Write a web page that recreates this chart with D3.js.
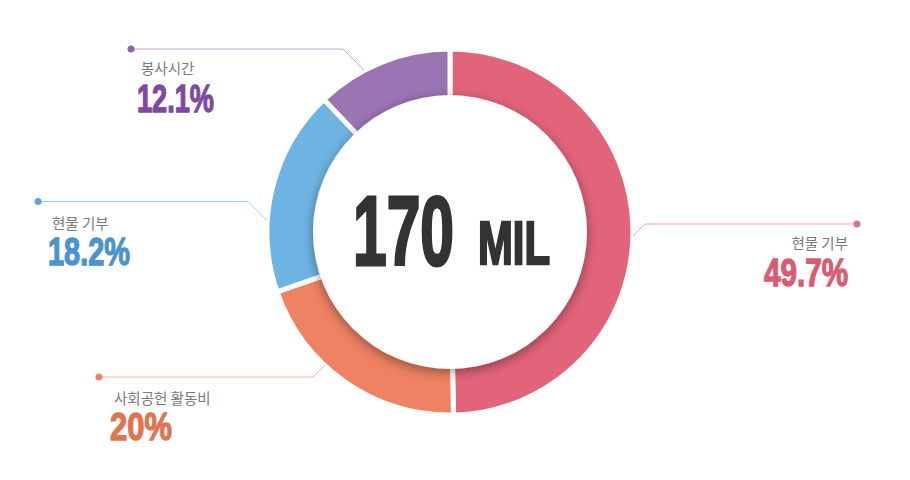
<!DOCTYPE html>
<html><head><meta charset="utf-8">
<script src="https://cdn.jsdelivr.net/npm/d3@7"></script>
<style>body{margin:0;background:#fff}svg{display:block}</style>
</head><body>
<svg id="c" width="910" height="480"></svg>
<script>
const categories = ["현물 기부", "사회공헌 활동비", "현물 기부", "봉사시간"];
const values = [49.7, 20, 18.2, 12.1];
const valueLabels = ["49.7%", "20%", "18.2%", "12.1%"];
const sliceColors = ["#e2647a", "#ee8262", "#6eb4e3", "#9b74b3"];
const textColors = ["#d85d72", "#e0744f", "#4b93cd", "#7d4aa1"];
const lineColors = ["#f2a5b1", "#f7b6a0", "#9dcbee", "#c2a6d3"];
const centerMain = "170", centerUnit = "MIL";

const W = 910, H = 480, cx = 450, cy = 232, R = 183, r = 137;
const svg = d3.select("#c");
const defs = svg.append("defs");
const f = defs.append("filter").attr("id","sh").attr("x","-30%").attr("y","-30%").attr("width","160%").attr("height","160%");
f.append("feDropShadow").attr("dx",0).attr("dy",3).attr("stdDeviation",6).attr("flood-color","#000").attr("flood-opacity",0.4);

const pie = d3.pie().sort(null).value(d => d)(values);
const arc = d3.arc().innerRadius(r - 4).outerRadius(R);
const g = svg.append("g").attr("transform", `translate(${cx},${cy})`);
g.selectAll("path").data(pie).join("path")
  .attr("d", arc).attr("fill", (d,i) => sliceColors[i])
  .attr("stroke", "#fff").attr("stroke-width", 5).attr("stroke-linejoin","miter");
g.append("circle").attr("r", r).attr("fill", "#fff").attr("filter", "url(#sh)");

// center text
g.append("text").text(centerMain).attr("x", -97).attr("y", 33)
  .attr("font-family","Liberation Sans, Arial, sans-serif").attr("font-weight",700)
  .attr("font-size",98).attr("fill","#333").attr("stroke","#333").attr("stroke-width",3)
  .attr("textLength",101).attr("lengthAdjust","spacingAndGlyphs");
g.append("text").text(centerUnit).attr("x", 28).attr("y", 32)
  .attr("font-family","Liberation Sans, Arial, sans-serif").attr("font-weight",700)
  .attr("font-size",62).attr("fill","#333").attr("stroke","#333").attr("stroke-width",2.5)
  .attr("textLength",72).attr("lengthAdjust","spacingAndGlyphs");

// label layout (annotation placement)
const layout = [
  {dot:[857,224], elbow:[645,224], dir:[-1,1], anchor:"end", tx:848, ly:249, vy:286, vw:84},
  {dot:[99,377], elbow:[313,377], dir:[1,-1], anchor:"start", tx:110, ly:404, vy:440, vw:62},
  {dot:[38,201.5], elbow:[248,201.5], dir:[1,1], anchor:"start", tx:48, ly:229, vy:265, vw:82},
  {dot:[131,49], elbow:[343,49], dir:[1,1], anchor:"start", tx:137, ly:74, vy:112, vw:77}
];
function hitCircle(e, d) {
  const k = Math.SQRT1_2, ux = d[0]*k, uy = d[1]*k;
  const px = e[0]-cx, py = e[1]-cy;
  const b = px*ux + py*uy, c = px*px + py*py - R*R;
  const t = -b - Math.sqrt(Math.max(0, b*b - c));
  return [e[0] + ux*t, e[1] + uy*t];
}
const lab = svg.append("g");
layout.forEach((L, i) => {
  const end = hitCircle(L.elbow, L.dir);
  lab.append("polyline").attr("points", [L.dot, L.elbow, end].map(p => p.join(",")).join(" "))
    .attr("fill","none").attr("stroke", lineColors[i]).attr("stroke-width",1);
  lab.append("circle").attr("cx", L.dot[0]).attr("cy", L.dot[1]).attr("r", 3.5).attr("fill", textColors[i]).attr("opacity",0.85);
  const kx = L.anchor === "end" ? L.tx : L.tx + 4;
  lab.append("text").text(categories[i]).attr("x", L.anchor === "end" ? L.tx : kx).attr("y", L.ly)
    .attr("text-anchor", L.anchor).attr("font-family","Noto Sans CJK KR, sans-serif")
    .attr("font-size",14.5).attr("fill","#7a7a7a");
  const vx = L.anchor === "end" ? L.tx - L.vw : L.tx;
  lab.append("text").text(valueLabels[i]).attr("x", vx).attr("y", L.vy)
    .attr("font-family","Liberation Sans, Arial, sans-serif").attr("font-weight",700)
    .attr("font-size",39).attr("fill", textColors[i]).attr("stroke", textColors[i]).attr("stroke-width",1.3)
    .attr("textLength", L.vw).attr("lengthAdjust","spacingAndGlyphs");
});
</script>
</body></html>
